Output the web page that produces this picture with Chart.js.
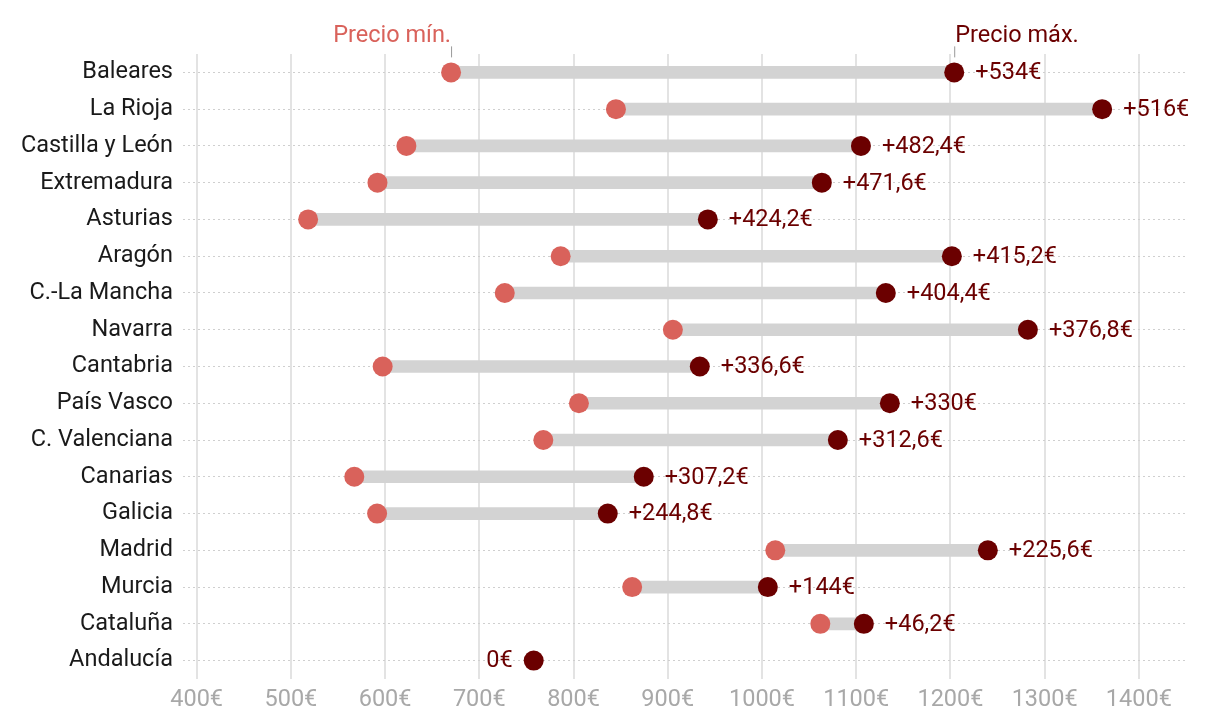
<!DOCTYPE html>
<html>
<head>
<meta charset="utf-8">
<script src="https://cdn.jsdelivr.net/npm/chart.js@4.4.0/dist/chart.umd.min.js"></script>
<style>
  html, body { margin: 0; padding: 0; background: #fff; }
  #wrap { width: 1220px; height: 722px; }
</style>
</head>
<body>
<div id="wrap"><canvas id="chart"></canvas></div>
<script>
const regions = ['Baleares', 'La Rioja', 'Castilla y León', 'Extremadura', 'Asturias', 'Aragón',
  'C.-La Mancha', 'Navarra', 'Cantabria', 'País Vasco', 'C. Valenciana', 'Canarias', 'Galicia',
  'Madrid', 'Murcia', 'Cataluña', 'Andalucía'];
const minPrice = [670, 845, 622.6, 591.9, 518.3, 786.3, 727, 905.4, 597.4, 805.7, 767.9, 567.3, 591.5, 1014.1, 862.2, 1061.9, 757.7];
const maxPrice = [1204, 1361, 1105, 1063.5, 942.5, 1201.5, 1131.4, 1282.2, 934, 1135.7, 1080.5, 874.5, 836.3, 1239.7, 1006.2, 1108.1, 757.7];
const xTicks = [400, 500, 600, 700, 800, 900, 1000, 1100, 1200, 1300, 1400];

const MIN_COLOR = '#d9625b';
const MAX_COLOR = '#6b0000';
const FONT = 'Roboto';

function diffLabel(i) {
  const d = Math.round((maxPrice[i] - minPrice[i]) * 10) / 10;
  const s = String(d).replace('.', ',') + '€';
  return d > 0 ? '+' + s : s;
}

const labelsPlugin = {
  id: 'dumbbellLabels',
  afterDatasetsDraw(chart) {
    const ctx = chart.ctx;
    const xs = chart.scales.x;
    const ys = chart.scales.y;
    ctx.save();
    ctx.font = '23.5px ' + FONT;
    ctx.textBaseline = 'middle';
    ctx.fillStyle = MAX_COLOR;
    regions.forEach((r, i) => {
      const y = ys.getPixelForValue(i);
      const text = diffLabel(i);
      if (maxPrice[i] - minPrice[i] === 0) {
        ctx.textAlign = 'right';
        ctx.fillText(text, xs.getPixelForValue(minPrice[i]) - 21, y + 1);
      } else {
        ctx.textAlign = 'left';
        ctx.fillText(text, xs.getPixelForValue(maxPrice[i]) + 21, y + 1);
      }
    });

    // annotations above the first row
    const y0 = ys.getPixelForValue(0);
    const xMin = xs.getPixelForValue(minPrice[0]);
    const xMax = xs.getPixelForValue(maxPrice[0]);
    ctx.strokeStyle = '#999';
    ctx.lineWidth = 1;
    ctx.beginPath();
    ctx.moveTo(xMin + 0.5, y0 - 26);
    ctx.lineTo(xMin + 0.5, y0 - 15);
    ctx.moveTo(xMax + 0.5, y0 - 26);
    ctx.lineTo(xMax + 0.5, y0 - 15);
    ctx.stroke();
    ctx.textBaseline = 'alphabetic';
    ctx.fillStyle = MIN_COLOR;
    ctx.textAlign = 'right';
    ctx.fillText('Precio mín.', xMin, y0 - 30);
    ctx.fillStyle = MAX_COLOR;
    ctx.textAlign = 'left';
    ctx.fillText('Precio máx.', xMax + 1, y0 - 30);
    ctx.restore();
  }
};

const ctx = document.getElementById('chart').getContext('2d');
new Chart(ctx, {
  type: 'bar',
  data: {
    labels: regions,
    datasets: [
      {
        label: 'Rango',
        data: regions.map((r, i) => [minPrice[i], maxPrice[i]]),
        backgroundColor: '#d3d3d3',
        barThickness: 12,
        borderSkipped: false,
        order: 3
      },
      {
        type: 'line',
        label: 'Precio mín.',
        data: regions.map((r, i) => ({ x: minPrice[i], y: r })),
        showLine: false,
        pointRadius: regions.map((r, i) => maxPrice[i] === minPrice[i] ? 0 : 10),
        pointBackgroundColor: MIN_COLOR,
        pointBorderWidth: 0,
        indexAxis: 'y',
        order: 2
      },
      {
        type: 'line',
        label: 'Precio máx.',
        data: regions.map((r, i) => ({ x: maxPrice[i], y: r })),
        showLine: false,
        pointRadius: 10,
        pointBackgroundColor: MAX_COLOR,
        pointBorderWidth: 0,
        indexAxis: 'y',
        order: 1
      }
    ]
  },
  options: {
    indexAxis: 'y',
    responsive: true,
    maintainAspectRatio: false,
    animation: false,
    layout: { padding: { left: 0, right: 34, top: 54, bottom: 0 } },
    plugins: {
      legend: { display: false },
      tooltip: { enabled: false }
    },
    scales: {
      x: {
        type: 'linear',
        min: 385.5,
        max: 1450,
        afterBuildTicks(scale) {
          scale.ticks = xTicks.map(v => ({ value: v }));
        },
        afterFit(scale) { scale.height = 43; },
        border: { display: false },
        grid: { color: '#e3e3e3', lineWidth: 2, drawTicks: false },
        ticks: {
          padding: 7,
          color: '#a8a8a8',
          font: { family: FONT, size: 23.5 },
          callback: v => v + '€'
        }
      },
      y: {
        type: 'category',
        offset: true,
        afterFit(scale) { scale.width = 183; },
        border: { display: false, dash: [2, 3] },
        grid: {
          offset: false,
          color: '#cfcfcf',
          lineWidth: 1,
          drawTicks: false
        },
        ticks: {
          padding: 10,
          color: '#1a1a1a',
          font: { family: FONT, size: 23.5 }
        }
      }
    }
  },
  plugins: [labelsPlugin]
});
</script>
</body>
</html>
